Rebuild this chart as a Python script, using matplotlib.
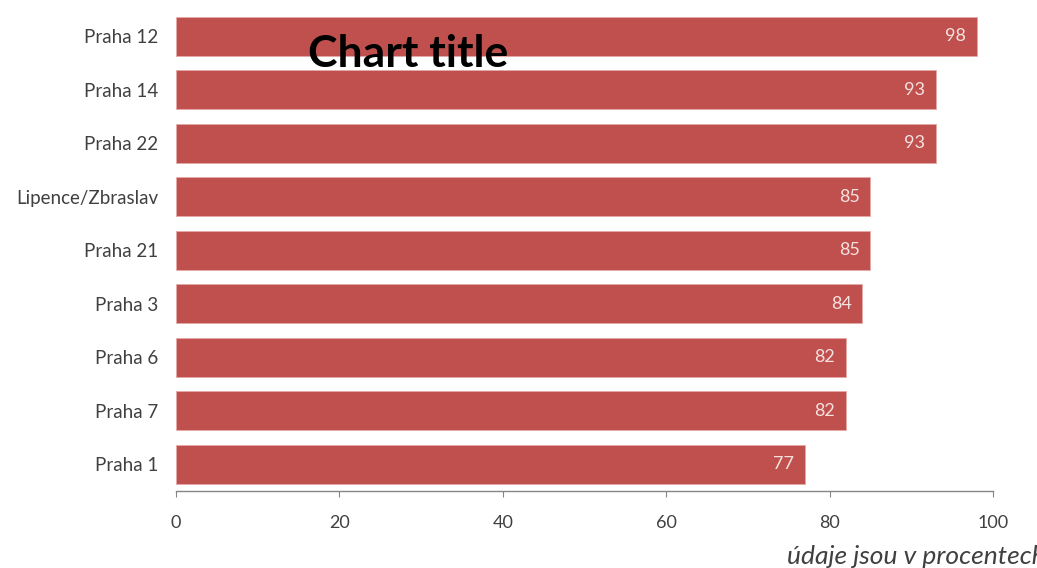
import matplotlib
matplotlib.use("Agg")
import matplotlib.pyplot as plt

categories = ["Praha 1", "Praha 7", "Praha 6", "Praha 3", "Praha 21",
              "Lipence/Zbraslav", "Praha 22", "Praha 14", "Praha 12"]
values = [77, 82, 82, 84, 85, 85, 93, 93, 98]
xticks = [0, 20, 40, 60, 80, 100]

plt.rcParams['font.family'] = ['Lato', 'DejaVu Sans']

fig = plt.figure(figsize=(10.37, 5.68), dpi=100)
ax = fig.add_axes([176/1037, 77/568, (993-176)/1037, (491-9.75)/568])

bar_color = "#C0504D"
bars = ax.barh(range(len(categories)), values, height=0.73, color=bar_color,
               edgecolor="#E6A9A7", linewidth=0.6)
for i, v in enumerate(values):
    ax.text(v - 1.3, i, str(v), ha='right', va='center', color="#F4E2E1", fontsize=13)

ax.set_xlim(0, 100)
ax.set_ylim(-0.5, len(categories) - 0.5)
ax.set_yticks(range(len(categories)))
ax.set_yticklabels(categories, fontsize=13.5, color="#404040")
ax.tick_params(axis='y', length=0, pad=13)
ax.set_xticks(xticks)
ax.set_xticklabels([str(t) for t in xticks], fontsize=13, color="#404040")
ax.tick_params(axis='x', length=4, color="#868686", pad=13, direction='out')
for s in ['top', 'right', 'left']:
    ax.spines[s].set_visible(False)
ax.spines['bottom'].set_color("#868686")
ax.spines['bottom'].set_linewidth(1.0)

fig.text(408/1037, 1 - 54/568, "Chart title", ha='center', va='center',
         fontsize=32, fontweight='bold', color="black")
fig.text(787/1037, 1 - 556/568, "údaje jsou v procentech", ha='left', va='center',
         fontsize=19, style='italic', color="#404040")

fig.savefig("out.png", dpi=100)
